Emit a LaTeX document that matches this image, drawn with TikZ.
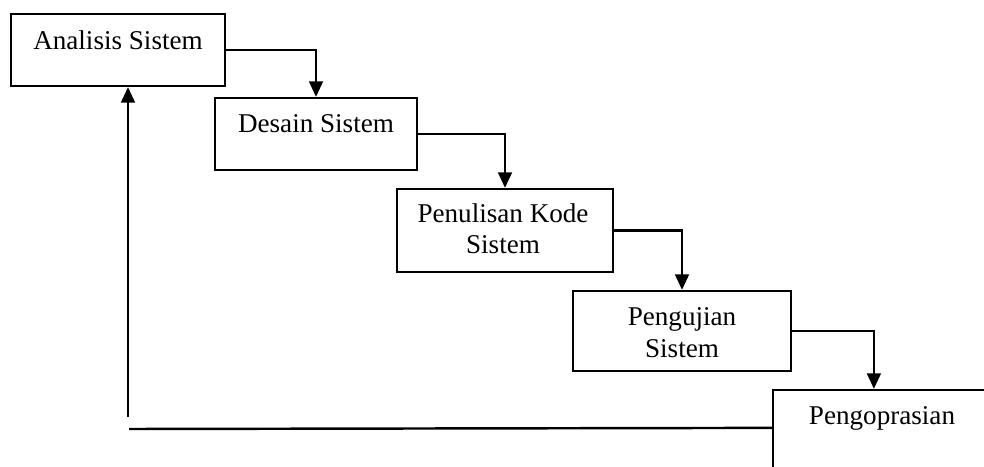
\documentclass[tikz,border=0pt]{standalone}
\usepackage{fontspec}
\setmainfont{Liberation Serif}
\usetikzlibrary{arrows.meta,calc}
\begin{document}
\begin{tikzpicture}[x=0.45pt,y=-0.45pt,
  stage/.style={draw=black,line width=1pt,rectangle,inner sep=0pt},
  label/.style={font=\fontsize{12.2pt}{14pt}\selectfont,align=center,inner sep=0pt,anchor=base},
  flow/.style={line width=1.1pt,-{Triangle[length=7pt,width=6.2pt]}},
  back/.style={line width=1.1pt}]
\useasboundingbox (0,0) rectangle (984,467);
\clip (0,0) rectangle (984,467);

% waterfall stages
\node[stage,minimum width=214*0.45pt,minimum height=72*0.45pt] (a) at (118,50) {};
\node[label] (ta) at (118,50) {Analisis Sistem};

\node[stage,minimum width=202*0.45pt,minimum height=72*0.45pt] (b) at (316,134) {};
\node[label] (tb) at (316,133) {Desain Sistem};

\node[stage,minimum width=216*0.45pt,minimum height=83*0.45pt] (c) at (505,230.5) {};
\node[label] (tc) at (503,254) {Penulisan Kode\\Sistem};

\node[stage,minimum width=218*0.45pt,minimum height=80*0.45pt] (d) at (682,331) {};
\node[label] (td) at (682,357) {Pengujian\\Sistem};

\node[stage,minimum width=240*0.45pt,minimum height=120*0.45pt] (e) at (893,450) {};
\node[label] (te) at (882,424) {Pengoprasian};

% step-down arrows
\draw[flow] (a.east) -| (b.north);
\draw[flow] (b.east) -| (c.north);
\draw[flow] (c.east) -| (d.north);
\draw[flow] (d.east) -| ($(e.north west)+(102,0)$);

% feedback from operation back to analysis
\coordinate (fbh) at (129,429);
\coordinate (fbv) at (128,417);
\draw[back] ($(e.north west)+(0,39)$) -- (fbh);
\draw[flow] (fbv) -- (fbv |- a.south);
\end{tikzpicture}
\end{document}
